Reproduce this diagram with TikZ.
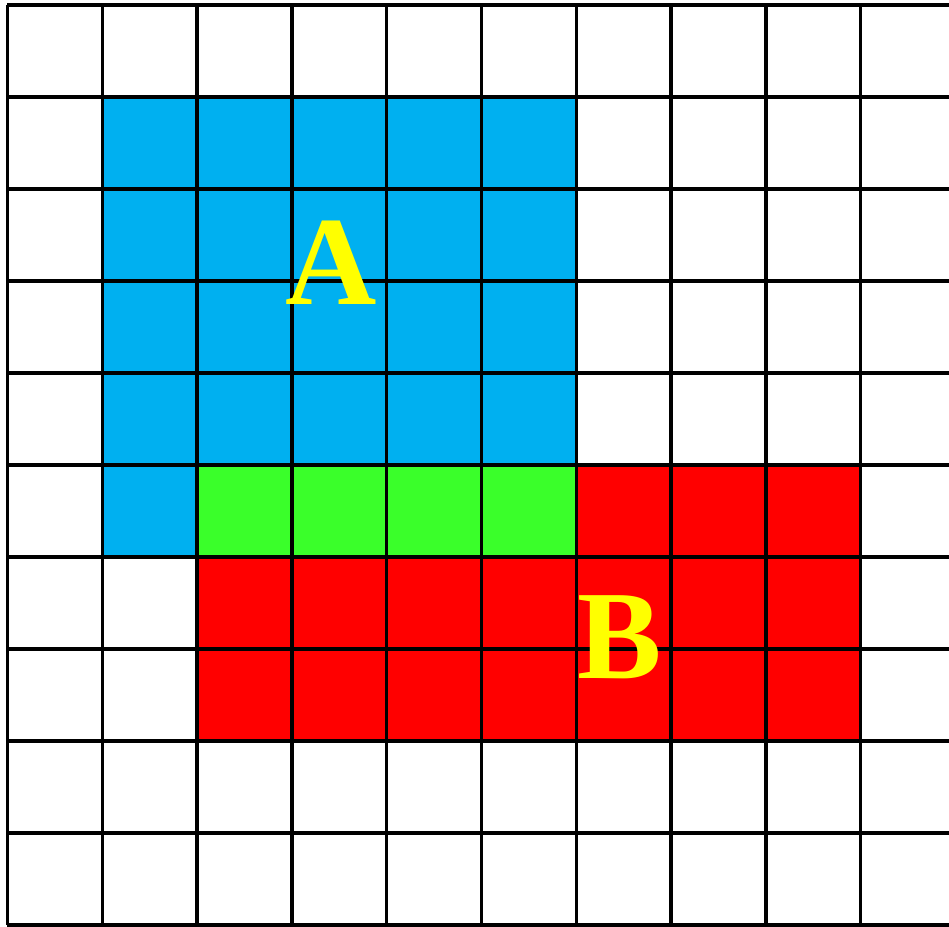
\documentclass[tikz,border=0pt]{standalone}
\usepackage{fontspec}
\setmainfont{Liberation Serif}
\usepackage{xcolor}
\definecolor{cellblue}{HTML}{00B0F0}
\definecolor{cellgreen}{HTML}{3AFF2A}
\definecolor{cellred}{HTML}{FF0000}
\definecolor{labelyellow}{HTML}{FFFF00}
\usetikzlibrary{positioning}

\begin{document}
\begin{tikzpicture}[x=0.948cm,y=-0.92cm,
  gridline/.style={black,line width=1pt},
  region/.style={text=labelyellow,font=\fontsize{36}{36}\selectfont\bfseries}]
  \useasboundingbox (-0.079,-0.054) rectangle (9.932,10.022);
  \clip (-0.079,-0.054) rectangle (9.932,10.022);
  % regions
  \fill[cellblue]  (1,1) rectangle (6,6);
  \fill[cellred]   (6,5) rectangle (9,6);
  \fill[cellred]   (2,6) rectangle (9,8);
  \fill[cellgreen] (2,5) rectangle (6,6);
  % grid
  \foreach \i in {0,...,9}
    \draw[gridline] (\i,0) -- (\i,10);
  \foreach \j in {0,...,10}
    \draw[gridline] (0,\j) -- (10.5,\j);
  \node[region] (labelA) at (3.41,2.80) {A};
  \node[region] (labelB) at (6.46,6.87) {B};
\end{tikzpicture}
\end{document}
